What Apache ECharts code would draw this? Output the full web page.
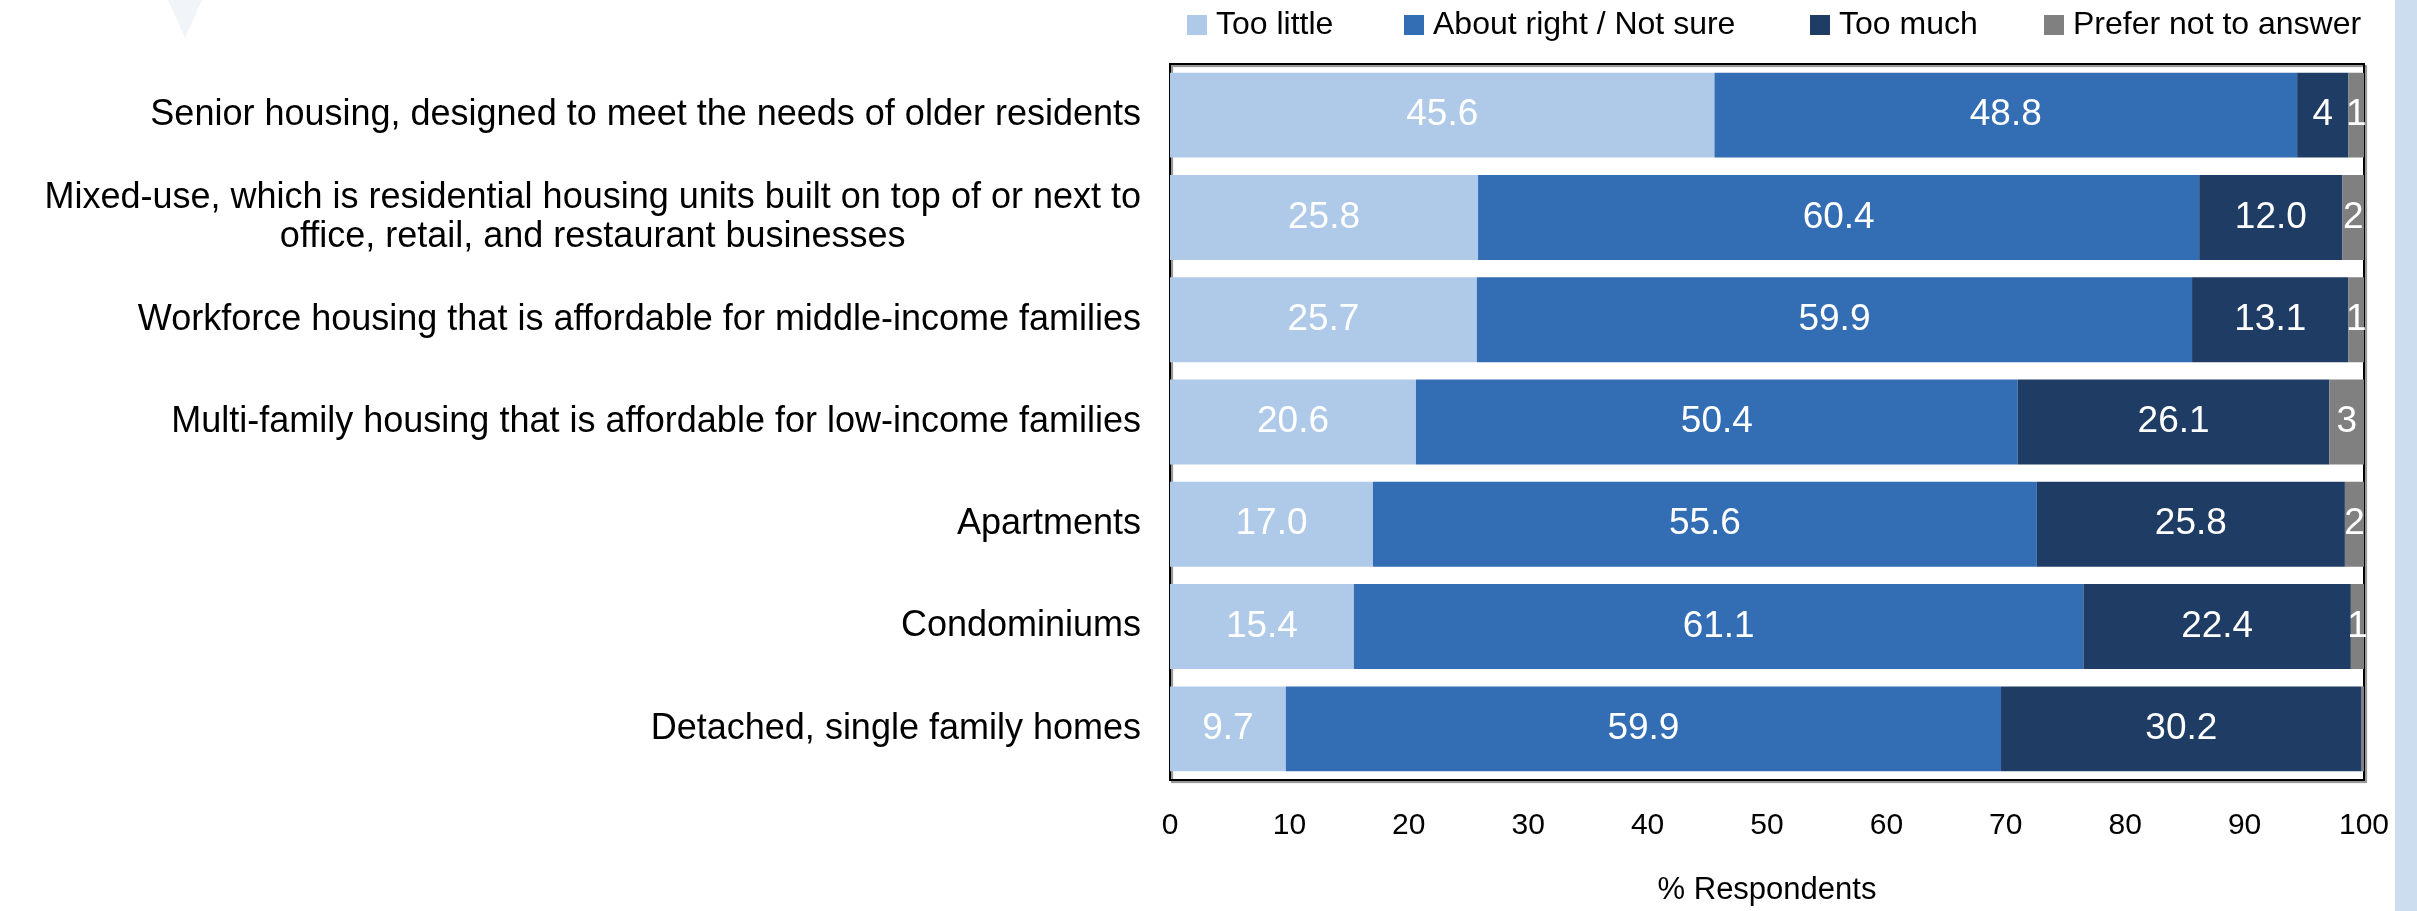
<!DOCTYPE html>
<html>
<head>
<meta charset="utf-8">
<script src="https://cdn.jsdelivr.net/npm/echarts@6/dist/echarts.min.js"></script>
<style>
html,body{margin:0;padding:0;background:#fff;}
#chart{width:2417px;height:911px;}
</style>
</head>
<body>
<div id="chart"></div>
<script>
// ---- data ----
const categories = [
  'Senior housing, designed to meet the needs of older residents',
  'Mixed-use, which is residential housing units built on top of or next to\noffice, retail, and restaurant businesses',
  'Workforce housing that is affordable for middle-income families',
  'Multi-family housing that is affordable for low-income families',
  'Apartments',
  'Condominiums',
  'Detached, single family homes'
];
const seriesNames = ['Too little', 'About right / Not sure', 'Too much', 'Prefer not to answer'];
const tooLittle  = [45.6, 25.8, 25.7, 20.6, 17.0, 15.4, 9.7];
const aboutRight = [48.8, 60.4, 59.9, 50.4, 55.6, 61.1, 59.9];
const tooMuch    = [4.3, 12.0, 13.1, 26.1, 25.8, 22.4, 30.2];
const preferNot  = [1.3, 1.8, 1.3, 2.9, 1.6, 1.1, 0.2];
const xTicks = [0, 10, 20, 30, 40, 50, 60, 70, 80, 90, 100];
const xAxisName = '% Respondents';

// ---- style ----
const FONT = 'Liberation Sans';
const colors = ['#AFC9E8', '#336EB4', '#1E3C64', '#808080'];
const legendLeft = [1182, 1399, 1805, 2039];

const chart = echarts.init(document.getElementById('chart'), null, {renderer: 'canvas'});

function labelFmt(p) {
  const v = p.value;
  if (v >= 5) return v.toFixed(1);
  if (v >= 0.5) return String(Math.round(v));
  return '';
}

const allSeries = [tooLittle, aboutRight, tooMuch, preferNot].map((arr, i) => ({
  name: seriesNames[i],
  type: 'bar',
  stack: 'total',
  data: arr,
  barWidth: '83%',
  itemStyle: {color: colors[i]},
  label: {
    show: true,
    position: 'inside',
    color: '#fff',
    fontFamily: FONT,
    fontSize: 37,
    formatter: labelFmt
  }
}));

chart.setOption({
  animation: false,
  backgroundColor: '#fff',
  color: colors,
  legend: seriesNames.map((n, i) => ({
    data: [n],
    left: legendLeft[i],
    top: 4,
    icon: 'rect',
    itemWidth: 20,
    itemHeight: 20,
    textStyle: {fontFamily: FONT, fontSize: 32, color: '#000', padding: [0, 0, 0, 4]}
  })),
  grid: {
    left: 1170, right: 53, top: 64, bottom: 115,
    show: true,
    borderColor: '#000',
    borderWidth: 2,
    shadowColor: 'rgba(0,0,0,0.45)',
    shadowOffsetX: 2,
    shadowOffsetY: 2,
    shadowBlur: 1
  },
  xAxis: {
    type: 'value',
    min: xTicks[0],
    max: xTicks[xTicks.length - 1],
    interval: 10,
    name: xAxisName,
    nameLocation: 'middle',
    nameGap: 95,
    nameTextStyle: {fontFamily: FONT, fontSize: 31, color: '#000'},
    axisLine: {show: false},
    axisTick: {show: false},
    splitLine: {show: false},
    axisLabel: {fontFamily: FONT, fontSize: 30, color: '#000', margin: 31}
  },
  yAxis: {
    type: 'category',
    data: categories,
    inverse: true,
    axisLine: {show: false},
    axisTick: {show: false},
    axisLabel: {
      margin: 29,
      align: 'right',
      formatter: v => v.split('\n').map(s => '{c|' + s + '}').join('\n'),
      rich: {
        c: {align: 'center', fontFamily: FONT, fontSize: 36, color: '#000', lineHeight: 39}
      }
    }
  },
  graphic: [
    {type: 'rect', right: 0, top: 0, shape: {width: 22, height: 911}, style: {fill: '#CCDDF0'}, silent: true},
    {type: 'polygon', shape: {points: [[168, 0], [202, 0], [185, 38]]}, style: {fill: '#F1F4F9'}, silent: true}
  ],
  series: allSeries
});
</script>
</body>
</html>
